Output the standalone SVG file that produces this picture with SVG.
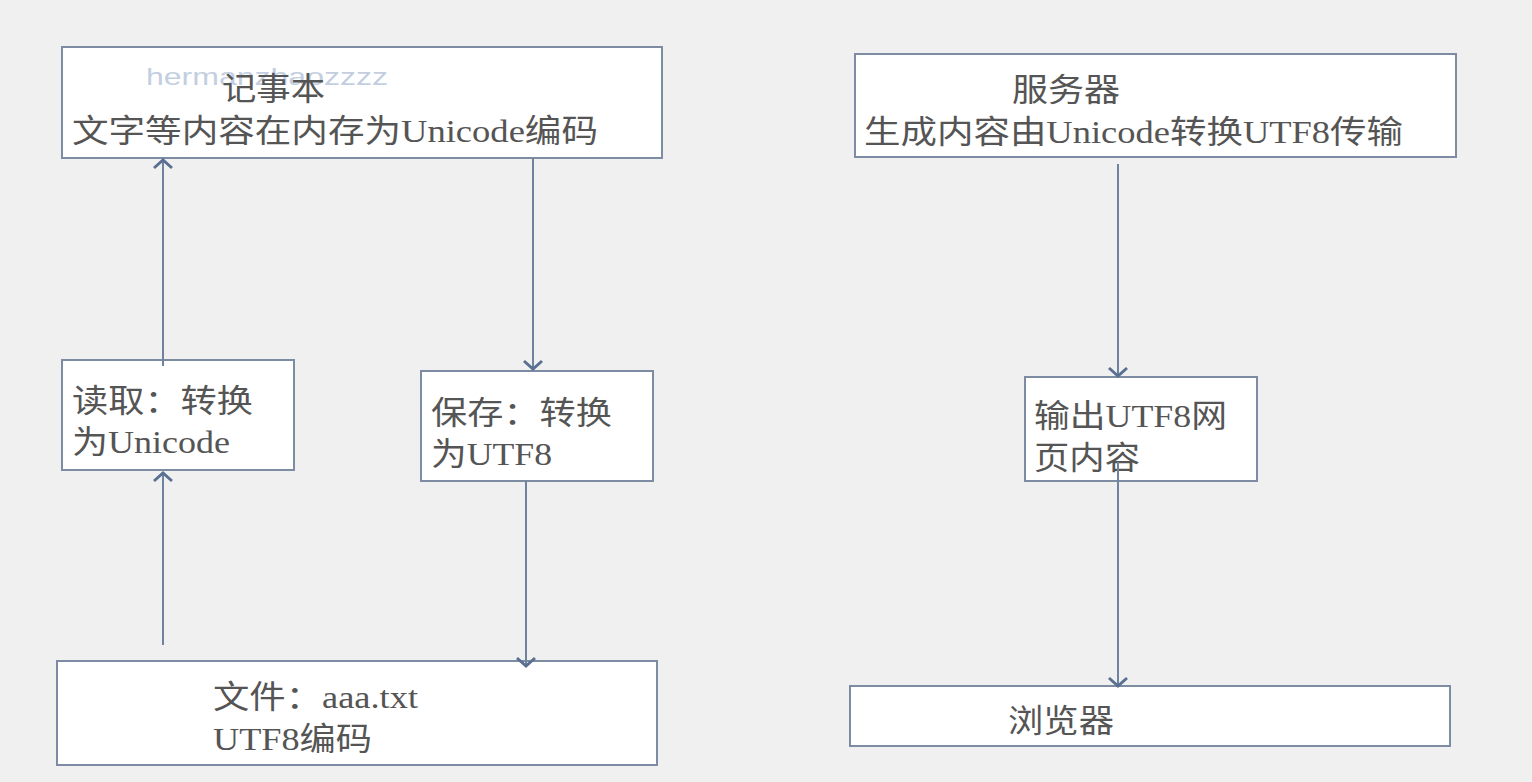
<svg xmlns="http://www.w3.org/2000/svg" width="1532" height="782" viewBox="0 0 1532 782">
<defs>
<style>
.box{fill:#ffffff;stroke:#7d8ca3;stroke-width:2}
.t{font-family:"Liberation Serif","Noto Sans CJK SC",serif;font-size:32px;fill:#555555}
.wm{font-family:"Liberation Sans",Arial,sans-serif;font-size:24px;fill:#c3cfe0}
.ln{stroke:#6e83a0;stroke-width:2;fill:none}
</style>
<marker id="arr" markerUnits="userSpaceOnUse" markerWidth="24" markerHeight="24" refX="12" refY="12" orient="auto" viewBox="0 0 24 24">
<path d="M4,3 L12,12 L4,21" fill="none" stroke="#5a7090" stroke-width="3"/>
</marker>
</defs>
<rect width="1532" height="782" fill="#f0f0f0"/>
<g id="notepad">
<rect class="box" x="62" y="47" width="600" height="111"/>
<text class="wm" x="146" y="85" textLength="242" lengthAdjust="spacingAndGlyphs">hermanzhaozzzz</text>
<text class="t" x="222" y="100" textLength="103" lengthAdjust="spacingAndGlyphs">记事本</text>
<text class="t" x="72" y="142" textLength="526" lengthAdjust="spacingAndGlyphs">文字等内容在内存为Unicode编码</text>
</g>
<g id="read">
<rect class="box" x="62" y="360" width="232" height="110"/>
<text class="t" x="72" y="412" textLength="181" lengthAdjust="spacingAndGlyphs">读取：转换</text>
<text class="t" x="72" y="453" textLength="158" lengthAdjust="spacingAndGlyphs">为Unicode</text>
</g>
<g id="save">
<rect class="box" x="421" y="371" width="232" height="110"/>
<text class="t" x="431" y="424" textLength="181" lengthAdjust="spacingAndGlyphs">保存：转换</text>
<text class="t" x="431" y="465" textLength="121" lengthAdjust="spacingAndGlyphs">为UTF8</text>
</g>
<g id="file">
<rect class="box" x="57" y="661" width="600" height="104"/>
<text class="t" x="213" y="708" textLength="205" lengthAdjust="spacingAndGlyphs">文件：aaa.txt</text>
<text class="t" x="213" y="750" textLength="159" lengthAdjust="spacingAndGlyphs">UTF8编码</text>
</g>
<g id="server">
<rect class="box" x="855" y="54" width="601" height="103"/>
<text class="t" x="1012" y="101" textLength="108" lengthAdjust="spacingAndGlyphs">服务器</text>
<text class="t" x="864" y="143" textLength="539" lengthAdjust="spacingAndGlyphs">生成内容由Unicode转换UTF8传输</text>
</g>
<g id="output">
<rect class="box" x="1025" y="377" width="232" height="104"/>
<text class="t" x="1034" y="427" textLength="193" lengthAdjust="spacingAndGlyphs">输出UTF8网</text>
<text class="t" x="1034" y="469" textLength="106" lengthAdjust="spacingAndGlyphs">页内容</text>
</g>
<g id="browser">
<rect class="box" x="850" y="686" width="600" height="60"/>
<text class="t" x="1008" y="732" textLength="106" lengthAdjust="spacingAndGlyphs">浏览器</text>
</g>
<g id="connectors">
<line class="ln" x1="163" y1="645" x2="163" y2="473" marker-end="url(#arr)"/>
<line class="ln" x1="163" y1="366" x2="163" y2="160" marker-end="url(#arr)"/>
<line class="ln" x1="533" y1="158" x2="533" y2="369" marker-end="url(#arr)"/>
<line class="ln" x1="526" y1="481" x2="526" y2="666" marker-end="url(#arr)"/>
<line class="ln" x1="1118" y1="164" x2="1118" y2="376" marker-end="url(#arr)"/>
<line class="ln" x1="1118" y1="462" x2="1118" y2="686" marker-end="url(#arr)"/>
</g>
</svg>
